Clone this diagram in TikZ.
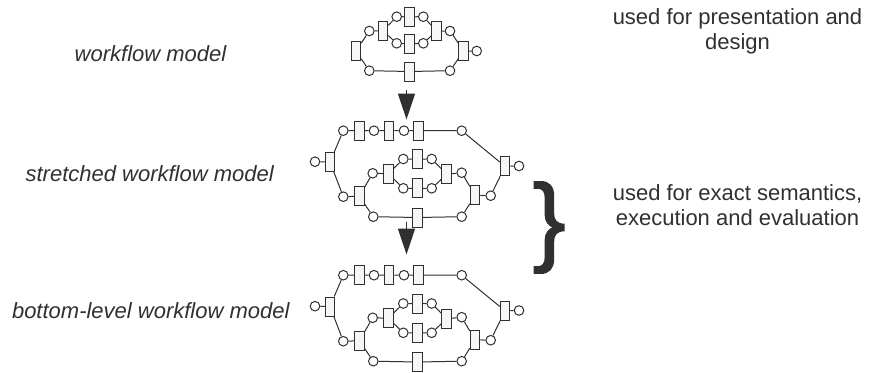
\documentclass[tikz,border=0pt]{standalone}
\usepackage{fontspec}
\setmainfont{Liberation Sans}
\newfontfamily\bracefont[FakeBold=1.6]{Liberation Sans}
\usetikzlibrary{arrows.meta}
\definecolor{ink}{HTML}{303030}
\definecolor{tfill}{HTML}{F6F6F6}
\tikzset{
  trans/.style={rectangle,draw=ink,fill=tfill,line width=1pt,minimum width=9.5pt,minimum height=19pt,inner sep=0pt},
  place/.style={circle,draw=ink,fill=white,line width=1pt,minimum size=9.6pt,inner sep=0pt},
  arc/.style={draw=ink,line width=1pt},
  lbl/.style={text=ink,font=\fontsize{22}{24.3}\selectfont\itshape,anchor=base,inner sep=0pt},
  note/.style={text=ink,font=\fontsize{22}{24.3}\selectfont,align=center,inner sep=0pt},
  flow/.style={draw=ink,line width=1.6pt,-{Triangle[width=17pt,length=26pt]}}
}
\newcommand\wfnet[2]{%
\begin{scope}[shift={(0,#2)}]
  \node[place] (#1pL) at (315,161.7) {};
  \node[trans] (#1tL) at (330,162) {};
  \node[place] (#1p1) at (343.3,130.7) {};
  \node[trans] (#1t1) at (359.7,130.5) {};
  \node[place] (#1p2) at (374,130.7) {};
  \node[trans] (#1t2) at (389.2,130.5) {};
  \node[place] (#1p3) at (404,130.7) {};
  \node[trans] (#1t3) at (418.3,130.5) {};
  \node[place] (#1p4) at (461.7,130.7) {};
  \node[trans] (#1tR) at (505,166.3) {};
  \node[place] (#1pR) at (519,166) {};
  \node[place] (#1p5) at (343.3,196.7) {};
  \node[trans] (#1t4) at (359.3,196.3) {};
  \node[place] (#1p6) at (372.7,173.3) {};
  \node[place] (#1p7) at (373.3,216.7) {};
  \node[trans] (#1t5) at (388.3,173.7) {};
  \node[place] (#1p8) at (403.3,159) {};
  \node[place] (#1p9) at (403.3,188.3) {};
  \node[trans] (#1t6) at (417.3,159) {};
  \node[trans] (#1t7) at (417.3,188.3) {};
  \node[place] (#1p10) at (431.7,159) {};
  \node[place] (#1p11) at (431.7,188.3) {};
  \node[trans] (#1t8) at (446.7,174.3) {};
  \node[place] (#1p12) at (461.7,172.7) {};
  \node[trans] (#1tB) at (417.3,217.5) {};
  \node[place] (#1p13) at (461.7,216.7) {};
  \node[trans] (#1t9) at (475,195.3) {};
  \node[place] (#1p14) at (490.7,195.7) {};
  \path[arc] (#1pL) -- (#1tL) (#1tL) -- (#1p1) (#1tL) -- (#1p5)
    (#1p1) -- (#1t1) -- (#1p2) -- (#1t2) -- (#1p3) -- (#1t3) -- (#1p4)
    (#1p4) -- (#1tR) (#1tR) -- (#1pR)
    (#1p5) -- (#1t4) (#1t4) -- (#1p6) (#1t4) -- (#1p7)
    (#1p6) -- (#1t5) (#1t5) -- (#1p8) (#1t5) -- (#1p9)
    (#1p8) -- (#1t6) -- (#1p10) (#1p9) -- (#1t7) -- (#1p11)
    (#1p10) -- (#1t8) (#1p11) -- (#1t8) (#1t8) -- (#1p12) (#1p12) -- (#1t9)
    (#1p7) -- (#1tB) -- (#1p13) (#1p13) -- (#1t9) (#1t9) -- (#1p14) (#1p14) -- (#1tR);
\end{scope}}
\begin{document}
\begin{tikzpicture}[x=1pt,y=-1pt]
\useasboundingbox (0,0) rectangle (872,372);
% top workflow model
\node[trans] (wtL) at (356,51) {};
\node[place] (wp1) at (369.3,31) {};
\node[place] (wp2) at (369.3,70.7) {};
\node[trans] (wt2) at (383,30.7) {};
\node[place] (wp3) at (396.7,16.7) {};
\node[place] (wp4) at (396.7,43.3) {};
\node[trans] (wt3) at (409.7,16.8) {};
\node[trans] (wt4) at (409.7,44) {};
\node[place] (wp5) at (423.3,16.7) {};
\node[place] (wp6) at (423.3,43.3) {};
\node[trans] (wt5) at (436.5,31) {};
\node[place] (wp7) at (450,31) {};
\node[trans] (wtR) at (463.7,51) {};
\node[place] (wpR) at (476.7,51) {};
\node[trans] (wtB) at (409.7,71.5) {};
\node[place] (wp8) at (450,70.7) {};
\path[arc] (wtL) -- (wp1) (wtL) -- (wp2) (wp1) -- (wt2) (wt2) -- (wp3) (wt2) -- (wp4)
  (wp3) -- (wt3) -- (wp5) (wp4) -- (wt4) -- (wp6) (wp5) -- (wt5) (wp6) -- (wt5)
  (wt5) -- (wp7) (wp7) -- (wtR) (wtR) -- (wpR) (wp2) -- (wtB) -- (wp8) (wp8) -- (wtR);
% stretched and bottom-level models
\wfnet{s}{0}
\wfnet{b}{144.5}
% arrows
\coordinate (a1s) at (406.5,89.5);
\coordinate (a1e) at (406.5,119.5);
\coordinate (a2s) at (406.5,222);
\coordinate (a2e) at (406.5,254.5);
\draw[flow] (a1s) -- (a1e);
\draw[flow] (a2s) -- (a2e);
% labels
\node[lbl] (l1) at (150.5,61.7) {workflow model};
\node[lbl] (l2) at (149.7,181.7) {stretched workflow model};
\node[lbl] (l3) at (150.8,318.3) {bottom-level workflow model};
\node[note,anchor=base] (n1) at (737.5,49) {used for presentation and\\design};
\node[note,anchor=base] (n2) at (737.5,225) {used for exact semantics,\\execution and evaluation};
% brace
\node[text=ink,font=\fontsize{98}{98}\selectfont\bracefont,inner sep=0pt] (br) at (549.2,227.5) {\}};
\end{tikzpicture}
\end{document}
